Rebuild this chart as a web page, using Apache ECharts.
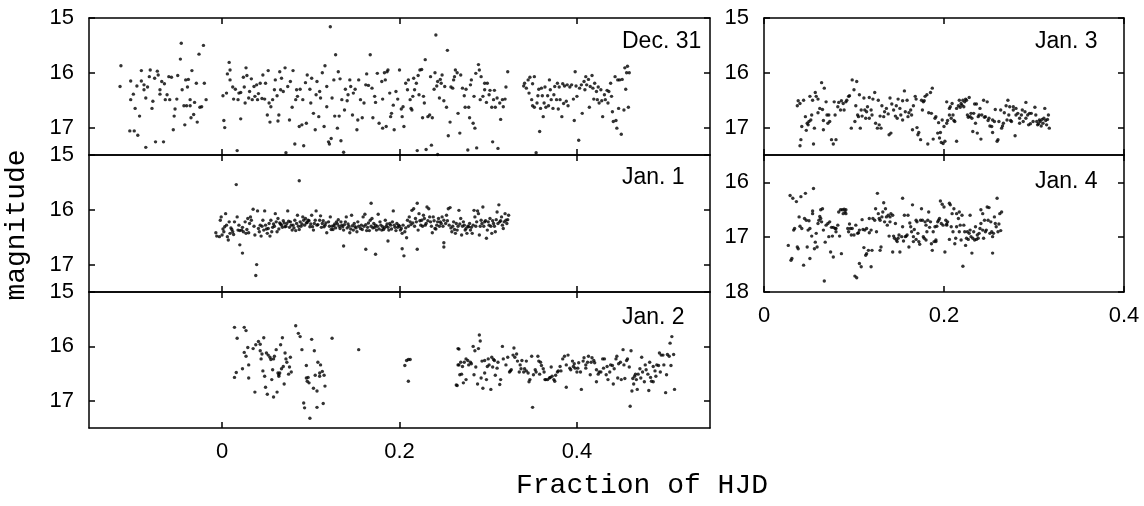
<!DOCTYPE html>
<html><head><meta charset="utf-8">
<script src="https://cdn.jsdelivr.net/npm/echarts@6/dist/echarts.min.js"></script>
<style>html,body{margin:0;padding:0;background:#fff}#c{width:1144px;height:506px}</style>
</head><body><div id="c"></div>
<script>
const panelNames = ['Dec. 31', 'Jan. 1', 'Jan. 2', 'Jan. 3', 'Jan. 4'];
const leftXTicks = [0, 0.2, 0.4];
const rightXTicks = [0, 0.2, 0.4];
const magTicksA = [15, 16, 17];
const magTicksB = [16, 17, 18];
const xTitle = 'Fraction of HJD';
const yTitle = 'magnitude';

const dec31 = [
[-0.114,15.87],[-0.115,16.25],[-0.103,16.15],[-0.103,16.49],[-0.100,16.39],[-0.098,16.65],[-0.096,16.24],[-0.093,16.79],[-0.104,17.06],[-0.099,17.06],[-0.095,17.14],[-0.091,15.96],[-0.091,16.15],[-0.088,16.31],[-0.088,16.22],[-0.086,17.36],[-0.086,16.46],[-0.084,16.26],[-0.082,16.07],[-0.081,15.95],[-0.079,16.65],[-0.078,16.52],[-0.076,16.10],[-0.075,17.26],[-0.073,15.97],[-0.072,16.04],[-0.070,16.39],[-0.070,16.31],[-0.068,16.16],[-0.066,17.26],[-0.065,16.20],[-0.064,16.49],[-0.062,16.40],[-0.060,16.07],[-0.059,16.49],[-0.057,16.08],[-0.055,17.04],[-0.054,16.79],[-0.053,16.66],[-0.051,16.48],[-0.050,16.05],[-0.047,15.75],[-0.046,15.46],[-0.045,16.31],[-0.043,16.60],[-0.042,16.95],[-0.041,16.13],[-0.040,16.60],[-0.039,16.26],[-0.038,16.12],[-0.036,16.60],[-0.036,16.49],[-0.035,16.82],[-0.034,15.96],[-0.032,16.76],[-0.031,16.54],[-0.029,16.19],[-0.028,16.90],[-0.026,15.66],[-0.025,16.63],[-0.023,16.62],[-0.021,15.50],[-0.020,16.19],[-0.018,16.49],
[0.001,16.42],[0.002,16.87],[0.003,17.00],[0.005,16.37],[0.006,16.02],[0.008,15.81],[0.009,16.13],[0.009,15.95],[0.012,16.26],[0.013,16.48],[0.015,16.30],[0.017,17.42],[0.018,16.49],[0.019,16.37],[0.021,16.84],[0.021,16.36],[0.024,16.08],[0.025,16.26],[0.026,16.55],[0.027,15.91],[0.028,16.05],[0.030,16.46],[0.031,16.34],[0.033,16.11],[0.034,16.49],[0.036,16.25],[0.037,16.43],[0.039,16.22],[0.040,16.49],[0.041,16.38],[0.043,16.19],[0.045,16.47],[0.046,16.04],[0.048,16.48],[0.049,16.19],[0.051,16.77],[0.052,15.96],[0.053,16.55],[0.054,16.90],[0.055,16.62],[0.057,16.49],[0.059,16.31],[0.060,16.13],[0.062,16.42],[0.063,16.88],[0.064,16.77],[0.065,15.98],[0.066,16.31],[0.067,16.10],[0.069,16.34],[0.071,15.91],[0.072,17.46],[0.074,16.25],[0.076,16.86],[0.077,16.16],[0.079,16.63],[0.080,15.96],[0.082,17.30],[0.083,16.49],[0.084,16.31],[0.085,16.43],[0.087,16.98],[0.088,16.30],[0.090,16.95],[0.091,16.49],[0.092,17.33],[0.094,16.18],[0.095,16.92],[0.096,16.04],[0.099,16.30],[0.100,16.55],[0.101,16.10],[0.103,16.74],[0.105,17.04],[0.106,16.40],[0.107,16.16],[0.109,16.80],[0.110,16.34],[0.111,16.46],[0.113,16.00],[0.115,16.98],[0.116,15.87],[0.118,16.25],[0.118,16.62],[0.120,17.26],[0.121,17.30],[0.122,15.16],[0.123,17.20],[0.124,16.46],[0.126,16.13],[0.127,16.79],[0.128,15.67],[0.130,17.01],[0.131,15.98],[0.132,16.79],[0.133,16.11],[0.134,17.24],[0.135,16.49],[0.137,17.45],[0.138,16.68],[0.139,16.30],[0.141,16.51],[0.142,16.40],[0.144,16.13],[0.145,16.25],[0.147,16.77],[0.148,16.37],[0.150,16.30],[0.152,17.04],[0.153,16.86],[0.154,16.13],[0.156,16.49],[0.158,16.82],[0.160,16.55],[0.162,16.22],[0.163,16.02],[0.165,16.23],[0.167,15.67],[0.169,16.28],[0.170,16.82],[0.172,16.43],[0.173,16.54],[0.175,16.01],[0.177,16.92],
[0.180,16.16],[0.181,16.48],[0.183,16.00],[0.184,16.13],[0.186,15.98],[0.187,15.95],[0.181,17.01],[0.185,16.98],[0.189,16.37],[0.190,16.80],[0.191,16.74],[0.193,16.59],[0.194,17.04],[0.196,16.34],[0.198,16.48],[0.200,15.95],[0.202,16.66],[0.203,16.80],[0.204,16.62],[0.205,16.98],[0.207,16.19],[0.209,16.31],[0.210,16.13],[0.212,16.49],[0.213,16.65],[0.214,16.68],[0.215,16.43],[0.216,16.10],[0.217,16.31],[0.219,16.19],[0.220,17.42],[0.221,16.05],[0.222,16.40],[0.223,15.95],[0.225,15.94],[0.226,16.82],[0.227,16.43],[0.228,16.55],[0.229,15.76],[0.230,17.40],[0.232,16.80],[0.234,16.77],[0.235,16.07],[0.236,17.32],[0.237,16.82],[0.239,16.30],[0.240,16.00],[0.241,15.31],[0.242,16.24],[0.243,17.49],[0.243,16.16],[0.245,16.46],[0.246,16.12],[0.247,16.19],[0.248,16.04],[0.250,16.51],[0.251,16.25],[0.253,16.63],[0.254,15.59],[0.255,17.15],[0.257,16.90],[0.258,16.26],[0.260,16.28],[0.261,16.13],[0.262,16.07],[0.263,15.95],[0.265,16.00],[0.266,16.74],[0.268,17.10],[0.269,16.04],[0.271,16.28],[0.273,16.42],[0.274,16.63],[0.275,16.30],[0.277,17.41],[0.278,16.63],[0.279,16.82],[0.280,16.22],[0.281,16.13],[0.283,16.92],[0.284,16.43],[0.285,17.01],[0.286,16.01],[0.287,17.37],[0.289,15.85],[0.290,15.95],[0.291,16.49],[0.292,16.07],[0.294,16.43],[0.296,16.19],[0.296,16.31],[0.298,16.54],[0.299,16.19],[0.301,16.40],[0.302,16.32],[0.304,16.63],[0.305,17.26],[0.306,16.49],[0.307,16.32],[0.308,16.63],[0.310,16.46],[0.311,17.38],[0.313,16.55],[0.314,16.85],[0.316,16.49],[0.317,16.62],[0.319,16.48],[0.320,16.26],[0.322,15.98],
[0.340,16.24],[0.341,16.19],[0.343,16.28],[0.345,16.13],[0.346,16.37],[0.347,16.08],[0.349,16.49],[0.350,16.60],[0.350,16.20],[0.352,16.07],[0.352,16.63],[0.354,17.46],[0.355,16.55],[0.356,16.42],[0.357,16.30],[0.358,17.07],[0.359,16.65],[0.360,16.28],[0.361,16.42],[0.362,16.80],[0.363,16.55],[0.364,16.26],[0.365,16.63],[0.367,16.42],[0.368,16.60],[0.369,16.13],[0.370,16.31],[0.371,16.49],[0.373,16.65],[0.374,16.40],[0.375,16.25],[0.377,16.49],[0.378,16.19],[0.379,16.66],[0.380,16.26],[0.381,16.49],[0.383,16.80],[0.384,16.20],[0.385,16.56],[0.386,16.24],[0.388,16.52],[0.389,16.22],[0.390,16.60],[0.392,16.26],[0.394,16.22],[0.396,16.48],[0.397,16.87],[0.398,15.98],[0.399,16.24],[0.400,16.43],[0.402,17.23],[0.403,16.28],[0.405,16.22],[0.406,16.74],[0.408,16.16],[0.409,16.31],[0.410,16.07],[0.411,16.22],[0.413,16.12],[0.414,16.63],[0.415,16.25],[0.417,16.05],[0.418,16.28],[0.419,16.48],[0.420,16.19],[0.422,16.34],[0.423,16.49],[0.424,16.26],[0.425,16.55],[0.427,16.31],[0.428,16.51],[0.429,16.80],[0.431,16.40],[0.432,16.49],[0.434,16.32],[0.435,16.55],[0.436,16.34],[0.438,16.19],[0.439,16.43],[0.440,16.71],[0.441,16.89],[0.443,16.07],[0.444,16.87],[0.445,17.01],[0.446,16.13],[0.447,16.65],[0.448,16.13],[0.450,17.12],[0.451,16.12],[0.453,16.68],[0.454,15.91],[0.455,16.30],[0.456,16.00],[0.457,15.88],[0.458,16.63],[0.459,16.00]
];

const jan1 = [
[0.016,15.54],[0.087,15.47],[0.039,17.00],[0.038,17.20],[0.020,16.64],[0.023,16.79],[0.137,16.66],[0.162,16.72],[0.173,16.81],[0.203,16.71],[0.205,16.84],[0.220,16.72],[0.250,16.60],[0.250,16.68],[0.168,15.88],[0.220,15.88],[0.187,16.57],
[-0.007,16.42],[-0.006,16.48],[-0.003,16.49],[-0.002,16.19],[-0.001,16.13],[0.000,16.46],[0.002,16.40],[0.003,16.31],[0.004,16.07],[0.006,16.49],[0.007,16.55],[0.008,16.22],[0.009,16.43],[0.011,16.36],[0.012,16.40],[0.014,16.22],[0.017,16.13],[0.018,16.37],[0.020,16.38],[0.022,16.37],[0.024,16.40],[0.026,16.22],[0.027,16.43],[0.029,16.16],[0.030,16.42],[0.032,16.13],[0.033,16.19],[0.035,15.99],[0.037,16.46],[0.040,16.02],[0.041,16.34],[0.043,16.28],[0.044,16.48],[0.046,16.19],[0.047,16.37],[0.048,16.02],[0.049,16.28],[0.051,16.43],[0.052,16.34],[0.054,16.48],[0.055,16.19],[0.057,16.32],[0.058,16.26],[0.060,16.07],[0.062,16.40],[0.063,16.16],[0.065,16.24],[0.067,16.28],[0.069,16.20],[0.071,16.31],[0.073,16.25],[0.074,16.02],[0.076,16.32],[0.077,16.22],[0.079,16.37],[0.080,16.28],[0.082,16.19],[0.083,16.38],[0.085,16.10],[0.087,16.36],[0.089,16.30],[0.091,16.13],[0.092,16.19],[0.094,16.16],[0.095,16.24],[0.097,16.19],[0.099,16.31],[0.101,16.10],[0.103,16.37],[0.105,16.19],[0.106,16.02],[0.107,16.28],[0.110,16.19],[0.111,16.11],[0.112,16.32],[0.114,16.20],[0.116,16.28],[0.118,16.42],[0.120,16.22],[0.122,16.13],[0.124,16.30],[0.125,16.36],[0.127,16.26],[0.129,16.22],[0.131,16.18],[0.133,16.34],[0.135,16.28],[0.137,16.37],[0.139,16.22],[0.140,16.13],[0.142,16.26],[0.144,16.42],[0.146,16.10],[0.148,16.37],[0.150,16.31],[0.152,16.40],[0.153,16.22],[0.156,16.34],[0.157,16.28],[0.159,16.13],[0.161,16.08],[0.163,16.38],[0.165,16.24],[0.167,16.19],[0.169,16.16],[0.171,16.25],[0.172,16.32],[0.174,16.37],[0.176,16.08],[0.178,16.22],[0.180,16.37],[0.182,16.36],[0.184,16.19],[0.186,16.26],[0.188,16.37],[0.190,16.28],[0.192,16.22],[0.193,16.02],[0.195,16.32],[0.197,16.25],[0.199,16.28],[0.201,16.37],[0.203,16.43],[0.206,16.40],[0.208,16.51],[0.209,16.19],[0.211,16.13],[0.212,16.22],[0.214,16.01],[0.216,15.98],[0.218,16.16],[0.221,16.37],[0.222,16.07],[0.224,16.28],[0.225,16.19],[0.227,16.10],[0.229,16.28],[0.231,15.95],[0.233,15.98],[0.234,16.13],[0.235,16.22],[0.237,16.42],[0.238,16.13],[0.240,16.34],[0.242,16.28],[0.244,16.16],[0.246,16.22],[0.248,16.13],[0.250,16.19],[0.253,16.10],[0.255,15.98],[0.257,15.96],[0.259,16.40],[0.261,16.22],[0.263,16.43],[0.265,16.37],[0.267,16.01],[0.269,16.16],[0.270,16.46],[0.272,16.22],[0.274,16.37],[0.276,16.43],[0.278,16.31],[0.280,16.37],[0.282,16.43],[0.284,16.01],[0.285,16.13],[0.287,16.22],[0.288,16.02],[0.289,16.07],[0.290,16.46],[0.292,16.19],[0.294,15.95],[0.296,16.22],[0.298,16.52],[0.299,16.37],[0.300,16.22],[0.302,16.16],[0.304,16.43],[0.306,16.25],[0.308,16.40],[0.310,16.04],[0.312,15.91],[0.313,16.22],[0.315,16.13],[0.316,16.28],[0.318,16.22],[0.319,16.07],[0.321,16.25],[0.323,16.10],[0.320,16.19],[0.317,16.34],
[0.001,16.35],[0.005,16.28],[0.010,16.33],[0.013,16.45],[0.019,16.28],[0.023,16.32],[0.028,16.36],[0.031,16.25],[0.036,16.30],[0.042,16.40],[0.045,16.30],[0.050,16.35],[0.053,16.25],[0.056,16.40],[0.059,16.30],[0.061,16.22],[0.064,16.35],[0.066,16.26],[0.068,16.32],[0.070,16.24],[0.072,16.30],[0.075,16.21],[0.078,16.28],[0.081,16.33],[0.084,16.25],[0.086,16.30],[0.088,16.22],[0.090,16.26],[0.093,16.28],[0.096,16.23],[0.098,16.20],[0.100,16.26],[0.102,16.31],[0.104,16.25],[0.108,16.27],[0.113,16.25],[0.115,16.31],[0.117,16.24],[0.121,16.30],[0.123,16.36],[0.126,16.29],[0.128,16.33],[0.130,16.26],[0.132,16.30],[0.134,16.22],[0.136,16.31],[0.138,16.27],[0.141,16.33],[0.143,16.30],[0.145,16.35],[0.147,16.29],[0.149,16.25],[0.151,16.33],[0.154,16.30],[0.158,16.36],[0.160,16.30],[0.162,16.27],[0.164,16.32],[0.166,16.38],[0.168,16.30],[0.170,16.33],[0.173,16.28],[0.175,16.30],[0.177,16.35],[0.179,16.28],[0.181,16.31],[0.183,16.33],[0.185,16.30],[0.187,16.32],[0.189,16.25],[0.191,16.35],[0.194,16.28],[0.196,16.38],[0.198,16.32],[0.200,16.30],[0.202,16.34],[0.204,16.28],[0.207,16.33],[0.210,16.30],[0.213,16.27],[0.215,16.24],[0.217,16.30],[0.219,16.22],[0.223,16.20],[0.226,16.30],[0.228,16.16],[0.230,16.25],[0.232,16.20],[0.236,16.30],[0.239,16.20],[0.241,16.35],[0.243,16.22],[0.245,16.30],[0.247,16.25],[0.249,16.30],[0.252,16.25],[0.254,16.20],[0.256,16.28],[0.258,16.33],[0.260,16.30],[0.262,16.36],[0.264,16.25],[0.266,16.30],[0.268,16.26],[0.271,16.30],[0.273,16.28],[0.275,16.34],[0.277,16.30],[0.279,16.25],[0.281,16.32],[0.283,16.28],[0.286,16.30],[0.291,16.30],[0.293,16.25],[0.295,16.30],[0.297,16.20],[0.301,16.28],[0.303,16.30],[0.305,16.20],[0.307,16.30],[0.309,16.18],[0.311,16.25],[0.314,16.20],[0.322,16.18]
];

const jan2 = [
[0.014,15.65],[0.025,15.65],[0.027,15.71],[0.017,15.85],[0.016,16.48],[0.014,16.57],[0.023,16.41],[0.030,16.34],[0.030,16.58],[0.025,16.11],[0.027,16.18],[0.029,16.02],[0.035,16.04],[0.037,16.84],[0.038,15.97],[0.041,15.91],[0.043,15.96],[0.043,16.08],[0.045,16.14],[0.044,16.23],[0.046,16.45],[0.047,15.84],[0.048,16.55],[0.049,16.75],[0.050,16.12],[0.051,16.88],[0.052,16.16],[0.054,16.20],[0.055,16.24],[0.056,16.61],[0.057,16.43],[0.058,16.93],[0.058,16.23],[0.059,16.18],[0.061,16.06],[0.062,16.84],[0.063,16.49],[0.064,16.52],[0.064,16.55],[0.065,16.49],[0.066,15.97],[0.067,16.41],[0.068,15.84],[0.069,16.37],[0.070,16.69],[0.071,16.12],[0.072,16.23],[0.073,16.29],[0.075,16.51],[0.076,16.38],[0.077,16.20],[0.078,16.47],[0.083,15.62],[0.086,15.76],[0.088,15.82],[0.090,16.06],[0.092,17.04],[0.093,17.13],[0.095,16.35],[0.095,16.58],[0.096,16.64],[0.097,16.57],[0.098,16.67],[0.099,17.32],[0.101,15.87],[0.103,16.77],[0.104,16.08],[0.105,16.53],[0.107,17.12],[0.107,16.82],[0.108,16.29],[0.110,16.49],[0.110,16.55],[0.111,16.34],[0.113,16.46],[0.114,17.05],[0.115,16.53],[0.116,16.73],[0.124,15.85],[0.154,16.06],[0.206,16.35],[0.208,16.26],[0.210,16.24],[0.212,16.24],[0.210,16.64],
[0.267,16.05],[0.266,16.34],[0.268,16.52],[0.265,16.72],
[0.264,16.71],[0.266,16.04],[0.267,16.34],[0.269,16.29],[0.270,16.51],[0.271,16.37],[0.272,16.67],[0.273,16.29],[0.275,16.61],[0.275,16.23],[0.277,16.26],[0.278,16.34],[0.280,16.29],[0.281,16.32],[0.283,16.00],[0.284,16.52],[0.285,16.08],[0.286,16.38],[0.288,16.69],[0.289,16.04],[0.290,15.79],[0.291,15.90],[0.292,16.58],[0.293,16.27],[0.294,16.77],[0.296,16.49],[0.296,16.26],[0.298,16.61],[0.299,16.37],[0.300,16.23],[0.301,16.34],[0.303,16.79],[0.304,16.20],[0.305,16.38],[0.306,16.24],[0.307,16.26],[0.308,16.53],[0.310,16.40],[0.311,16.29],[0.313,16.70],[0.314,16.61],[0.316,16.00],[0.317,16.23],[0.320,16.34],[0.322,16.20],[0.324,16.47],[0.325,16.45],[0.326,16.43],[0.328,16.16],[0.329,16.03],[0.330,16.20],[0.332,16.14],[0.333,16.27],[0.335,16.47],[0.336,16.34],[0.337,16.41],[0.338,16.26],[0.340,16.47],[0.341,16.41],[0.343,16.45],[0.343,16.27],[0.345,16.49],[0.346,16.65],[0.347,16.61],[0.349,16.18],[0.350,17.12],[0.351,16.52],[0.353,16.43],[0.354,16.47],[0.356,16.18],[0.357,16.27],[0.358,16.51],[0.359,16.29],[0.360,16.35],[0.362,16.41],[0.363,16.47],[0.364,16.61],[0.365,16.61],[0.367,16.61],[0.369,16.58],[0.370,16.57],[0.371,16.38],[0.372,16.55],[0.374,16.61],[0.375,16.64],[0.376,16.53],[0.378,16.47],[0.379,16.45],[0.381,16.37],[0.382,16.45],[0.384,16.23],[0.386,16.18],[0.388,16.75],[0.388,16.34],[0.390,16.16],[0.392,16.40],[0.393,16.43],[0.395,16.27],[0.396,16.37],[0.397,16.32],[0.398,16.40],[0.400,16.47],[0.401,16.40],[0.402,16.30],[0.404,16.47],[0.405,16.79],[0.407,16.27],[0.408,16.21],[0.410,16.40],[0.410,16.34],[0.412,16.29],[0.413,16.18],[0.415,16.52],[0.416,16.29],[0.417,16.21],[0.419,16.26],[0.420,16.30],[0.422,16.65],[0.422,16.43],[0.424,16.51],[0.425,16.47],[0.427,16.47],[0.429,16.23],[0.430,16.40],[0.431,16.23],[0.433,16.52],[0.434,16.37],[0.435,16.61],[0.437,16.47],[0.438,16.34],[0.440,16.35],[0.441,16.69],[0.442,16.41],[0.444,16.23],[0.445,16.18],[0.446,16.58],[0.447,16.32],[0.449,16.29],[0.450,16.61],[0.452,16.06],[0.453,16.34],[0.454,16.59],[0.456,16.26],[0.457,16.23],[0.459,16.38],[0.460,17.10],[0.461,16.08],[0.462,16.82],[0.463,16.59],[0.464,16.69],[0.465,16.55],[0.466,16.51],[0.467,16.61],[0.468,16.79],[0.469,16.51],[0.471,16.41],[0.472,16.58],[0.473,16.20],[0.474,16.47],[0.476,16.65],[0.477,16.34],[0.478,16.43],[0.480,16.51],[0.481,16.81],[0.482,16.29],[0.483,16.57],[0.484,16.64],[0.486,16.37],[0.486,16.65],[0.488,16.45],[0.489,16.55],[0.490,16.34],[0.492,16.35],[0.493,16.12],[0.494,16.47],[0.495,16.16],[0.497,16.16],[0.498,16.34],[0.500,16.85],[0.501,16.52],[0.502,16.15],[0.504,16.18],[0.505,15.94],[0.506,16.35],[0.507,15.82],[0.509,16.15],[0.510,16.79]
];

const jan3 = [
[0.037,16.60],[0.038,16.51],[0.040,16.56],[0.041,17.22],[0.040,17.33],[0.042,16.98],[0.044,16.50],[0.046,16.80],[0.047,17.05],[0.048,16.92],[0.049,16.95],[0.050,16.89],[0.051,16.43],[0.052,16.86],[0.053,16.77],[0.054,16.50],[0.055,17.30],[0.056,17.01],[0.057,16.36],[0.058,16.43],[0.060,16.48],[0.060,16.73],[0.062,16.65],[0.064,16.18],[0.065,16.67],[0.066,16.87],[0.066,17.04],[0.067,16.28],[0.069,16.53],[0.070,16.77],[0.071,16.92],[0.072,16.77],[0.073,16.89],[0.075,17.22],[0.077,17.30],[0.078,16.53],[0.079,16.77],[0.080,17.22],[0.082,16.62],[0.083,16.54],[0.085,16.68],[0.086,16.51],[0.088,16.56],[0.089,16.68],[0.091,16.53],[0.092,16.50],[0.094,16.43],[0.095,16.42],[0.097,17.01],[0.098,16.13],[0.100,16.31],[0.101,16.89],[0.102,16.60],[0.103,16.16],[0.104,16.77],[0.105,16.80],[0.106,16.40],[0.107,17.01],[0.108,16.68],[0.109,16.79],[0.111,16.46],[0.112,16.68],[0.113,16.83],[0.114,16.71],[0.115,16.62],[0.117,16.83],[0.117,16.45],[0.119,16.68],[0.120,16.77],[0.121,16.48],[0.123,16.36],[0.124,16.92],[0.126,17.01],[0.127,16.50],[0.128,16.95],[0.129,16.79],[0.130,17.01],[0.131,16.60],[0.133,16.80],[0.134,16.71],[0.136,16.65],[0.138,16.75],[0.139,17.13],[0.140,16.46],[0.141,17.10],[0.142,16.57],[0.144,16.68],[0.146,16.79],[0.147,16.60],[0.148,16.83],[0.149,16.48],[0.151,16.65],[0.152,16.77],[0.154,16.86],[0.154,16.51],[0.156,16.33],[0.157,16.71],[0.159,16.50],[0.160,16.80],[0.161,16.73],[0.163,16.68],[0.164,16.77],[0.165,17.04],[0.166,16.60],[0.168,16.43],[0.169,16.48],[0.170,17.00],[0.171,17.13],[0.172,17.09],[0.174,17.22],[0.175,16.50],[0.176,16.68],[0.177,16.53],[0.178,16.51],[0.179,16.43],[0.181,16.40],[0.182,17.30],[0.183,16.73],[0.185,16.36],[0.186,16.74],[0.187,16.28],[0.188,17.21],[0.190,16.83],[0.191,16.80],[0.193,17.10],[0.194,16.91],[0.195,17.19],[0.196,17.09],[0.197,17.27],[0.198,16.86],[0.199,17.29],[0.200,16.98],[0.201,17.25],[0.203,16.92],[0.203,16.53],[0.204,16.87],[0.206,16.77],[0.206,16.65],[0.207,16.62],[0.208,16.83],[0.209,16.56],[0.210,16.77],[0.211,16.87],[0.212,16.89],[0.214,17.25],[0.214,16.65],[0.216,16.60],[0.217,16.50],[0.218,16.63],[0.219,16.56],[0.220,16.59],[0.221,16.50],[0.222,16.62],[0.223,16.53],[0.224,16.48],[0.225,16.50],[0.226,16.77],[0.227,16.81],[0.228,16.45],[0.229,16.80],[0.230,16.74],[0.231,16.83],[0.232,17.07],[0.233,16.74],[0.234,16.57],[0.235,16.92],[0.236,16.57],[0.237,17.10],[0.238,16.80],[0.239,16.77],[0.240,16.65],[0.241,17.21],[0.242,16.77],[0.244,16.50],[0.245,16.81],[0.246,16.80],[0.248,16.53],[0.249,16.87],[0.250,16.83],[0.251,16.97],[0.253,16.98],[0.254,17.09],[0.254,16.86],[0.256,16.89],[0.257,16.67],[0.259,17.25],[0.260,17.22],[0.261,16.89],[0.263,16.68],[0.264,17.01],[0.265,16.97],[0.266,16.92],[0.267,16.73],[0.269,16.60],[0.270,16.86],[0.271,16.50],[0.272,16.77],[0.273,16.62],[0.274,16.87],[0.275,16.89],[0.277,16.68],[0.277,16.62],[0.279,17.15],[0.280,16.77],[0.280,16.65],[0.282,16.74],[0.284,16.92],[0.284,16.83],[0.286,16.77],[0.287,16.68],[0.288,16.89],[0.290,16.71],[0.291,16.83],[0.291,16.54],[0.293,16.77],[0.294,16.95],[0.295,16.74],[0.296,16.93],[0.297,16.74],[0.299,16.89],[0.301,16.63],[0.302,16.77],[0.303,16.89],[0.304,16.95],[0.305,16.93],[0.306,16.86],[0.308,16.97],[0.309,16.85],[0.310,16.92],[0.312,16.65],[0.313,16.87],[0.314,16.95],[0.315,16.85],[0.316,16.77],[0.317,17.01],[0.311,16.83],[0.307,16.89]
];

const jan4 = [
[0.027,17.15],[0.029,16.24],[0.030,17.42],[0.031,17.39],[0.032,16.29],[0.033,16.87],[0.034,16.84],[0.036,16.35],[0.037,17.18],[0.038,17.21],[0.039,16.63],[0.040,16.80],[0.041,16.26],[0.042,16.84],[0.044,17.51],[0.045,16.66],[0.046,16.20],[0.047,16.69],[0.048,17.18],[0.049,16.87],[0.050,16.70],[0.051,16.84],[0.051,17.39],[0.053,16.98],[0.054,16.52],[0.054,16.57],[0.055,16.11],[0.056,17.21],[0.057,17.09],[0.058,16.93],[0.059,17.18],[0.060,16.75],[0.061,16.69],[0.062,16.62],[0.063,16.50],[0.063,16.66],[0.064,16.72],[0.065,16.48],[0.066,16.87],[0.067,17.80],[0.068,17.09],[0.069,16.78],[0.071,16.75],[0.072,16.99],[0.073,16.72],[0.074,17.27],[0.075,16.82],[0.076,16.98],[0.077,16.82],[0.077,17.36],[0.079,16.84],[0.080,16.90],[0.080,16.84],[0.082,16.78],[0.083,16.54],[0.084,16.98],[0.085,16.50],[0.086,17.30],[0.087,16.50],[0.088,16.57],[0.089,16.49],[0.090,16.54],[0.091,16.50],[0.091,16.57],[0.093,16.84],[0.094,16.90],[0.095,16.76],[0.096,16.84],[0.097,16.96],[0.098,16.84],[0.100,16.96],[0.101,17.71],[0.102,16.78],[0.103,17.74],[0.104,16.93],[0.105,16.92],[0.106,17.48],[0.106,16.87],[0.108,17.54],[0.109,16.68],[0.110,16.86],[0.111,17.19],[0.112,16.87],[0.113,17.33],[0.114,17.30],[0.114,16.84],[0.116,17.24],[0.117,16.92],[0.117,16.66],[0.119,16.87],[0.119,17.54],[0.120,17.24],[0.121,16.66],[0.123,16.69],[0.124,16.48],[0.125,16.90],[0.126,16.20],[0.127,16.57],[0.128,16.66],[0.129,17.24],[0.129,16.69],[0.130,17.18],[0.131,16.63],[0.132,16.54],[0.133,16.37],[0.134,16.72],[0.135,16.48],[0.136,16.63],[0.137,16.78],[0.138,16.60],[0.139,16.98],[0.140,16.72],[0.140,16.63],[0.141,16.57],[0.143,16.60],[0.143,17.27],[0.144,16.98],[0.145,17.02],[0.146,16.75],[0.147,17.05],[0.148,17.08],[0.149,17.02],[0.150,16.96],[0.151,17.27],[0.153,16.99],[0.154,16.81],[0.154,16.29],[0.155,17.07],[0.156,16.60],[0.157,16.99],[0.158,16.98],[0.159,16.96],[0.160,16.60],[0.161,17.18],[0.162,16.74],[0.163,16.81],[0.164,16.90],[0.165,16.41],[0.166,16.99],[0.166,17.08],[0.167,16.86],[0.169,16.69],[0.169,17.04],[0.170,16.72],[0.171,16.93],[0.172,17.08],[0.173,17.13],[0.174,16.69],[0.175,16.48],[0.176,16.69],[0.177,16.99],[0.178,17.02],[0.179,16.72],[0.180,16.78],[0.180,17.05],[0.181,16.90],[0.182,16.69],[0.183,16.54],[0.184,16.82],[0.185,16.72],[0.186,17.12],[0.187,17.24],[0.188,16.90],[0.189,17.08],[0.190,16.81],[0.191,17.08],[0.191,17.05],[0.192,16.80],[0.193,16.72],[0.194,16.69],[0.195,16.66],[0.196,16.34],[0.197,16.75],[0.198,16.40],[0.199,16.78],[0.200,16.45],[0.201,17.27],[0.202,16.69],[0.203,16.78],[0.203,16.76],[0.204,16.72],[0.206,16.38],[0.206,17.04],[0.207,16.41],[0.208,16.81],[0.209,16.57],[0.210,16.90],[0.211,16.48],[0.212,17.12],[0.213,17.02],[0.214,16.57],[0.214,16.81],[0.216,16.66],[0.217,16.90],[0.217,16.54],[0.218,16.78],[0.219,17.05],[0.220,16.60],[0.221,17.53],[0.222,16.78],[0.223,16.90],[0.224,17.15],[0.225,17.02],[0.226,16.90],[0.227,17.04],[0.228,16.93],[0.229,16.60],[0.229,16.87],[0.230,16.99],[0.231,17.29],[0.232,17.02],[0.233,16.90],[0.234,17.05],[0.235,16.81],[0.236,17.04],[0.237,16.96],[0.238,17.02],[0.239,16.93],[0.240,16.84],[0.241,16.75],[0.241,16.50],[0.243,16.57],[0.243,16.87],[0.244,17.02],[0.245,16.69],[0.246,16.90],[0.247,16.87],[0.248,16.45],[0.249,16.69],[0.250,16.46],[0.251,16.93],[0.252,16.72],[0.253,16.90],[0.254,17.29],[0.254,16.99],[0.255,16.93],[0.256,16.63],[0.257,16.75],[0.258,16.81],[0.259,16.29],[0.260,16.90],[0.261,16.76],[0.262,16.57],[0.263,16.88],[0.264,16.54]
];

const panelData = [dec31, jan1, jan2, jan3, jan4];

// layout (pixels) for each panel
const layout = [
  {left: 89, top: 18, width: 621, height: 137, xr: [-0.15, 0.55], yr: [15, 17.5], yt: magTicksA, xt: leftXTicks, xl: false, lx: 622, ly: 41.5},
  {left: 89, top: 155, width: 621, height: 137, xr: [-0.15, 0.55], yr: [15, 17.5], yt: magTicksA, xt: leftXTicks, xl: false, lx: 622, ly: 177.5},
  {left: 89, top: 292, width: 621, height: 136, xr: [-0.15, 0.55], yr: [15, 17.5], yt: magTicksA, xt: leftXTicks, xl: true, lx: 622, ly: 318},
  {left: 764, top: 18, width: 360, height: 137, xr: [0, 0.4], yr: [15, 17.5], yt: magTicksA, xt: rightXTicks, xl: false, lx: 1035, ly: 41.5},
  {left: 764, top: 155, width: 360, height: 137, xr: [0, 0.4], yr: [15.5, 18], yt: magTicksB, xt: rightXTicks, xl: true, lx: 1035, ly: 182}
];

const lineStyle = {color: '#000', width: 1.5};
const tickFont = {color: '#000', fontSize: 22, fontFamily: 'Liberation Sans, Arial, sans-serif'};
const fmtX = v => (Math.abs(v) < 1e-9 ? '0' : String(+v.toFixed(1)));

const grids = [], xAxes = [], yAxes = [], series = [], graphics = [];
layout.forEach((L, i) => {
  grids.push({left: L.left, top: L.top, width: L.width, height: L.height, show: false, containLabel: false, outerBoundsMode: 'none'});
  ['bottom', 'top'].forEach(pos => {
    xAxes.push({
      type: 'value', gridIndex: i, position: pos, min: L.xr[0], max: L.xr[1],
      axisLine: {show: true, onZero: false, lineStyle},
      axisTick: {show: true, inside: true, length: 6, customValues: L.xt, lineStyle},
      axisLabel: {show: pos === 'bottom' && L.xl, customValues: L.xt, formatter: fmtX, margin: 13, ...tickFont},
      splitLine: {show: false}
    });
  });
  ['left', 'right'].forEach(pos => {
    yAxes.push({
      type: 'value', gridIndex: i, position: pos, inverse: true, min: L.yr[0], max: L.yr[1],
      axisLine: {show: true, onZero: false, lineStyle},
      axisTick: {show: true, inside: true, length: 6, customValues: L.yt, lineStyle},
      axisLabel: {show: pos === 'left', customValues: L.yt, formatter: v => String(Math.round(v)), margin: 15, ...tickFont},
      splitLine: {show: false}
    });
  });
  series.push({
    type: 'scatter', name: panelNames[i], xAxisIndex: 2 * i, yAxisIndex: 2 * i,
    data: panelData[i], symbol: 'circle', symbolSize: 3.4,
    itemStyle: {color: '#000'}, silent: true, z: 3
  });
  graphics.push({
    type: 'text', x: L.lx, y: L.ly, z: 10,
    style: {text: panelNames[i], fill: '#000', fontSize: 23, fontFamily: 'Liberation Sans, Arial, sans-serif', textAlign: 'left', textVerticalAlign: 'middle'}
  });
});

graphics.push({
  type: 'text', x: 642, y: 486, z: 10,
  style: {text: xTitle, fill: '#000', fontSize: 28, fontFamily: 'Liberation Mono, monospace', textAlign: 'center', textVerticalAlign: 'middle'}
});
graphics.push({
  type: 'text', x: 17, y: 225, rotation: Math.PI / 2, z: 10,
  style: {text: yTitle, fill: '#000', fontSize: 28, fontFamily: 'Liberation Mono, monospace', textAlign: 'center', textVerticalAlign: 'middle'}
});

const chart = echarts.init(document.getElementById('c'), null, {renderer: 'canvas'});
chart.setOption({
  animation: false,
  backgroundColor: '#fff',
  grid: grids, xAxis: xAxes, yAxis: yAxes, series: series, graphic: graphics
});
</script></body></html>
